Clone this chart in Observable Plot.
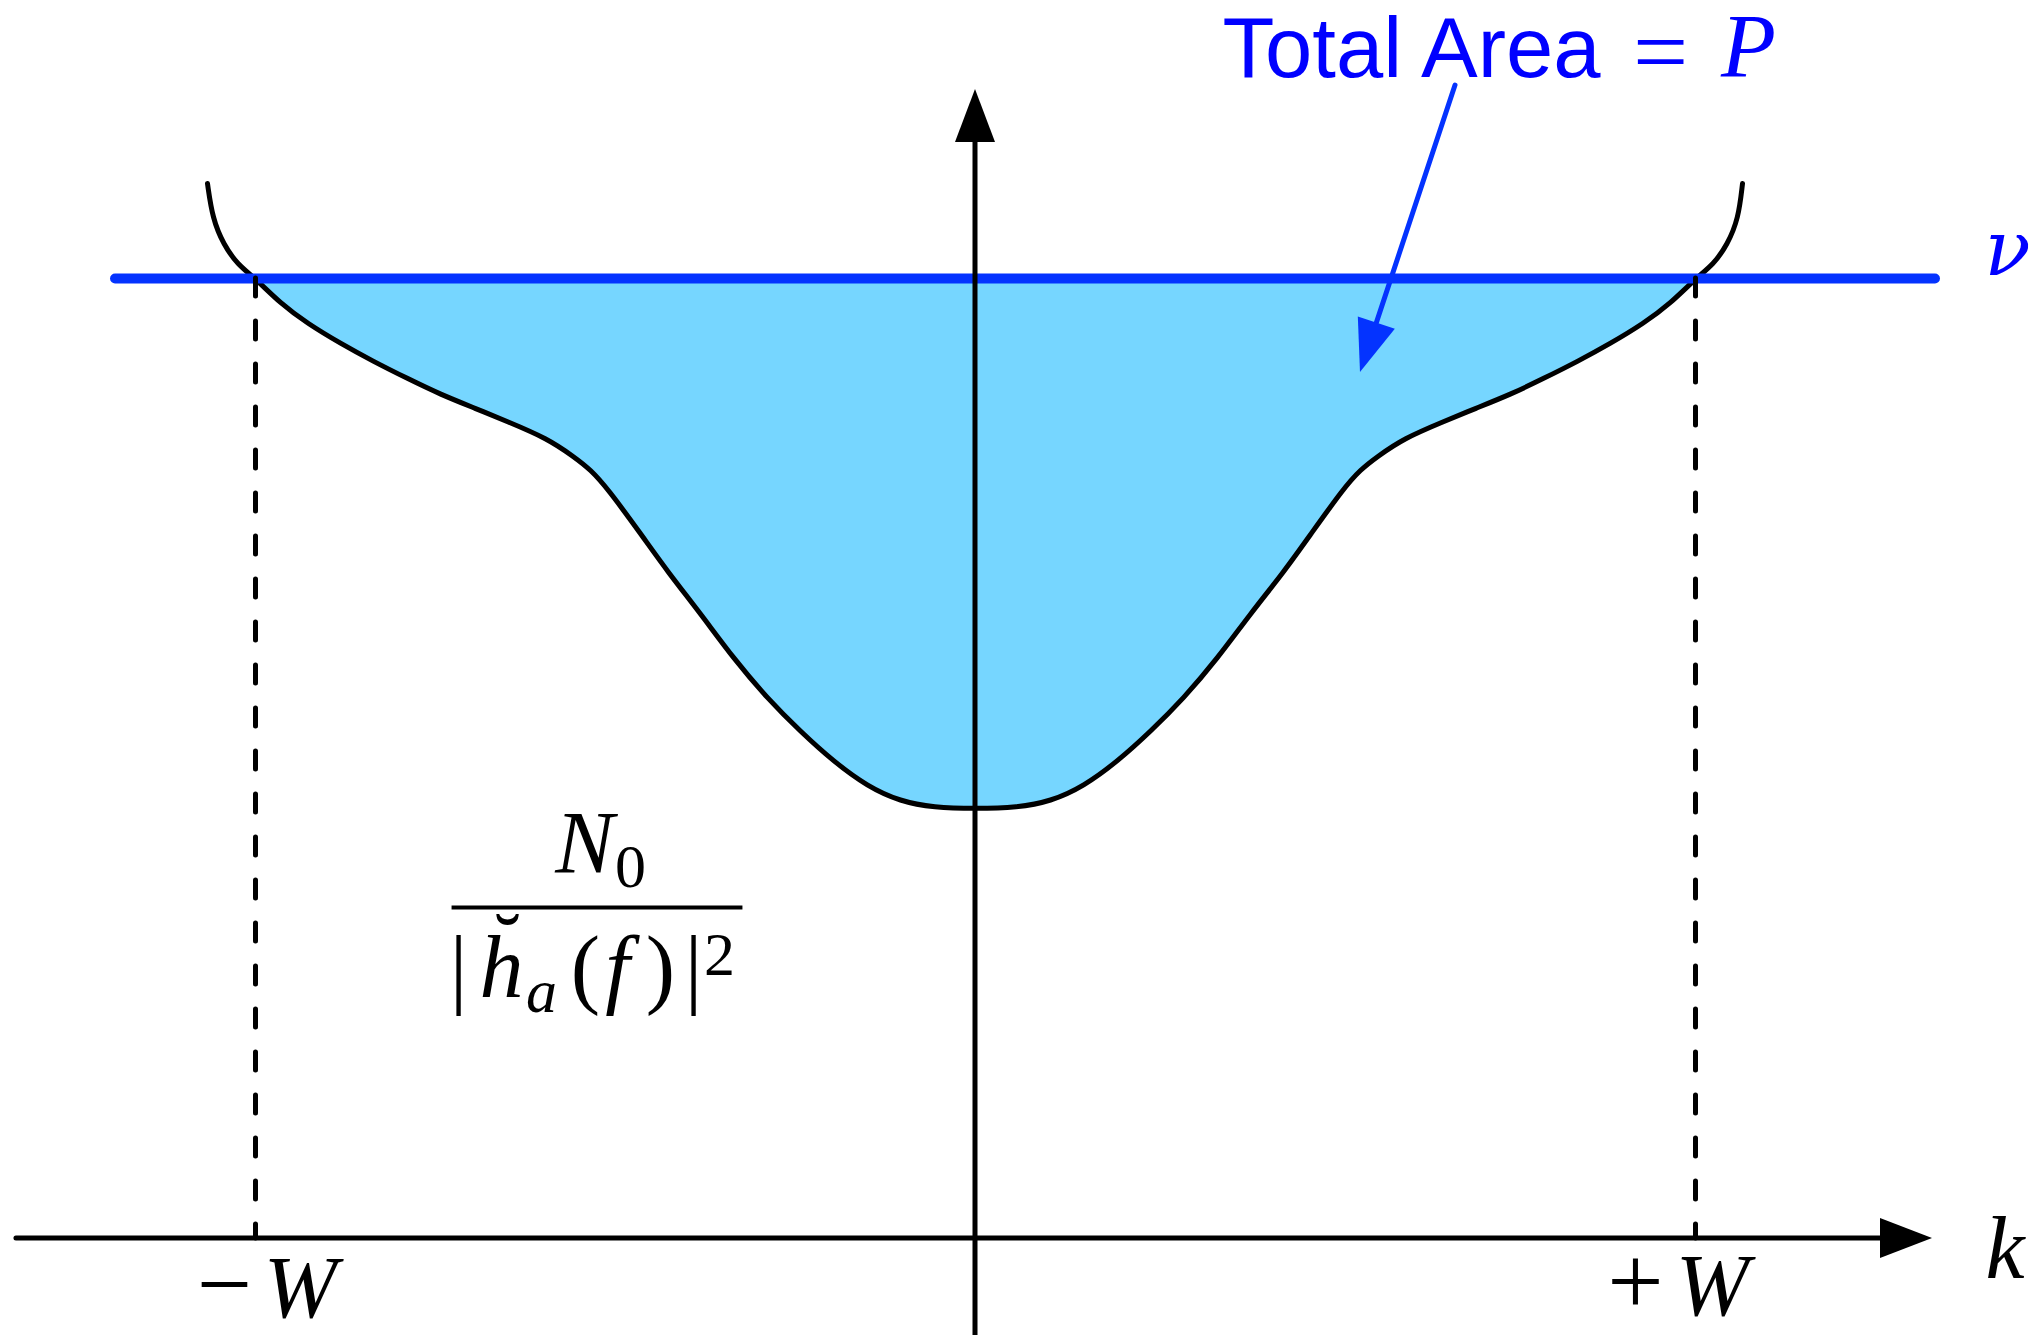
<!DOCTYPE html>
<html>
<head>
<meta charset="utf-8">
<script src="https://cdn.jsdelivr.net/npm/d3@7"></script>
<script src="https://cdn.jsdelivr.net/npm/@observablehq/plot@0.6"></script>
<style>
  html, body { margin: 0; padding: 0; background: #ffffff; }
  #chart svg { display: block; }
</style>
</head>
<body>
<div id="chart"></div>
<script>
// Water-filling picture: the noise-to-gain profile N0/|h_a(f)|^2 against k,
// filled up to the water level nu between the band edges -W and +W.
// k is measured in units of W, the profile in units of nu.
const kValues = [
  -1.0667, -1.0597, -1.0444, -1.0250, -1.0000, -0.9653, -0.9278, -0.8819, -0.8361, -0.7889,
  -0.7431, -0.6944, -0.6500, -0.5944, -0.5583, -0.5347, -0.5111, -0.4653, -0.4278, -0.3819,
  -0.3361, -0.2889, -0.2431, -0.1972, -0.1500, -0.1042, -0.0583, 0,
  0.0583, 0.1042, 0.1500, 0.1972, 0.2431, 0.2889, 0.3361, 0.3819, 0.4278, 0.4653,
  0.5111, 0.5347, 0.5583, 0.5944, 0.6500, 0.6944, 0.7431, 0.7889, 0.8361, 0.8819,
  0.9278, 0.9653, 1.0000, 1.0250, 1.0444, 1.0597, 1.0653
];
const profileValues = [
  1.0990, 1.0625, 1.0354, 1.0146, 1.0000, 0.9740, 0.9531, 0.9323, 0.9135, 0.8958,
  0.8792, 0.8646, 0.8510, 0.8333, 0.8146, 0.8010, 0.7813, 0.7344, 0.6948, 0.6510,
  0.6042, 0.5625, 0.5281, 0.4969, 0.4708, 0.4552, 0.4490, 0.4479,
  0.4490, 0.4552, 0.4708, 0.4969, 0.5281, 0.5625, 0.6042, 0.6510, 0.6938, 0.7333,
  0.7813, 0.8010, 0.8146, 0.8333, 0.8510, 0.8646, 0.8792, 0.8958, 0.9135, 0.9323,
  0.9531, 0.9740, 1.0000, 1.0146, 1.0354, 1.0625, 1.0990
];
const nu = 1;      // water level
const W = 1;       // band edge
const bandEdges = [-W, W];

// extents of the drawn lines (same units)
const nuLineFrom = -1.1944, nuLineTo = 1.3333;
const kAxisFrom = -1.332, kAxisTip = 1.3292;
const vAxisFrom = -0.101, vAxisTip = 1.1969;
const pointerTail = [0.6667, 1.2010], pointerTip = [0.5347, 0.9021];

const profile = kValues.map((k, i) => ({k, v: profileValues[i]}));
const filled = profile.filter(d => Math.abs(d.k) <= W);

const blue = "#0433ff";
const textBlue = "#0000ff";
const serif = "'Liberation Serif', 'Times New Roman', serif";
const greek = "'DejaVu Serif', 'Liberation Serif', serif";
const sans = "'Liberation Sans', Arial, Helvetica, sans-serif";

// Straight arrow with a filled triangular head, drawn in screen space from the scales.
function arrow(tail, tip, {stroke = "black", strokeWidth = 5, headLength = 52, headHalf = 20} = {}) {
  return (index, scales) => {
    const x0 = scales.x(tail[0]), y0 = scales.y(tail[1]);
    const x1 = scales.x(tip[0]), y1 = scales.y(tip[1]);
    const len = Math.hypot(x1 - x0, y1 - y0);
    const ux = (x1 - x0) / len, uy = (y1 - y0) / len;
    const bx = x1 - ux * headLength, by = y1 - uy * headLength;
    const g = d3.create("svg:g");
    g.append("line")
      .attr("x1", x0).attr("y1", y0)
      .attr("x2", bx + ux * 4).attr("y2", by + uy * 4)
      .attr("stroke", stroke).attr("stroke-width", strokeWidth)
      .attr("stroke-linecap", "round");
    g.append("path")
      .attr("d", `M${x1},${y1}L${bx - uy * headHalf},${by + ux * headHalf}L${bx + uy * headHalf},${by - ux * headHalf}Z`)
      .attr("fill", stroke);
    return g.node();
  };
}

// One piece of a typeset label, placed relative to an anchor point (baseline at the offset).
function piece(at, text, dx, dy, size, {font = serif, italic = true, anchor = "middle", fill = "black"} = {}) {
  return Plot.text([at], {
    x: d => d[0], y: d => d[1], text: () => text,
    dx, dy, fontSize: size, fontFamily: font,
    fontStyle: italic ? "italic" : "normal",
    textAnchor: anchor, lineAnchor: "bottom", fill
  });
}

const titleAt = [0.3403, 1.2104];
const fracAt = [-0.525, 0.3448];
const fracHalf = 0.202;

const chart = Plot.plot({
  width: 2038,
  height: 1335,
  margin: 0,
  x: {domain: [-975 / 720, 1063 / 720], axis: null},
  y: {domain: [-97 / 960, 1238 / 960], axis: null},
  style: {background: "#ffffff", overflow: "visible"},
  marks: [
    // power poured under the water level
    Plot.areaY(filled, {x: "k", y1: "v", y2: nu, fill: "#76d6ff", curve: "basis"}),
    // noise-to-gain profile
    Plot.line(profile, {x: "k", y: "v", stroke: "black", strokeWidth: 5, curve: "basis"}),
    // water level nu
    Plot.ruleY([nu], {x1: nuLineFrom, x2: nuLineTo, stroke: blue, strokeWidth: 10, strokeLinecap: "round"}),
    // band edges
    Plot.ruleX(bandEdges, {y1: nu, y2: 0, stroke: "black", strokeWidth: 5, strokeDasharray: "18,25", strokeLinecap: "round"}),
    // axes
    arrow([kAxisFrom, 0], [kAxisTip, 0], {strokeWidth: 5, headLength: 52, headHalf: 20}),
    arrow([0, vAxisFrom], [0, vAxisTip], {strokeWidth: 5, headLength: 53, headHalf: 20}),
    // pointer from the annotation into the filled area
    arrow(pointerTail, pointerTip, {stroke: blue, strokeWidth: 5, headLength: 52, headHalf: 19.5}),

    // "Total Area = P"
    piece(titleAt, "Total Area", 2, 0, 85, {font: sans, italic: false, anchor: "start", fill: textBlue}),
    piece(titleAt, "=", 440, 7, 98, {italic: false, fill: textBlue}),
    piece(titleAt, "P", 528, 0, 90, {fill: textBlue}),

    // nu label at the end of the water line
    piece([nuLineTo, nu], "ν", 49, -4, 76, {font: greek, anchor: "start", fill: textBlue}),
    // k label past the axis tip
    piece([kAxisTip, 0], "k", 53, 39, 88, {anchor: "start"}),
    // band edge labels
    piece([-W, 0], "−", -31, 78, 98, {italic: false}),
    piece([-W, 0], "W", 45, 78, 88),
    piece([W, 0], "+", -60, 76, 100, {italic: false}),
    piece([W, 0], "W", 17, 76, 88),

    // N0 / |h̆_a(f)|^2
    piece(fracAt, "N", -13, -35, 88),
    piece(fracAt, "0", 33, -20, 62, {italic: false}),
    Plot.ruleY([fracAt[1]], {x1: fracAt[0] - fracHalf, x2: fracAt[0] + fracHalf, stroke: "black", strokeWidth: 4}),
    piece(fracAt, "|", -139, 90, 88, {italic: false}),
    piece(fracAt, "h", -96, 90, 88),
    piece(fracAt, "˘", -90, 62, 80, {italic: false}),
    piece(fracAt, "a", -56, 105, 62),
    piece(fracAt, "(", -12, 90, 88, {italic: false}),
    piece(fracAt, "f", 20, 90, 88),
    piece(fracAt, ")", 63, 90, 88, {italic: false}),
    piece(fracAt, "|", 96, 90, 88, {italic: false}),
    piece(fracAt, "2", 122, 68, 62, {italic: false})
  ]
});

document.getElementById("chart").append(chart);
</script>
</body>
</html>
